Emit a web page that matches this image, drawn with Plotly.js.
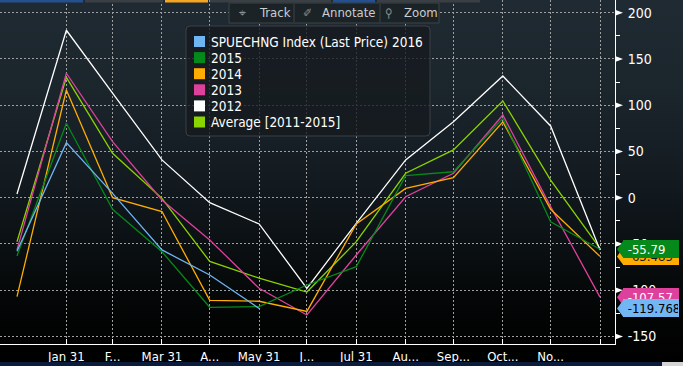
<!DOCTYPE html>
<html>
<head>
<meta charset="utf-8">
<script src="https://cdn.plot.ly/plotly-3.0.1.min.js"></script>
<style>
html,body{margin:0;padding:0;width:683px;height:366px;overflow:hidden;
background:linear-gradient(to bottom,#1f2a32 0px,#1b252c 90px,#141c22 170px,#0d1317 225px,#070a0b 280px,#020303 325px,#000 366px);}
#chart{width:683px;height:366px;}
</style>
</head>
<body>
<div id="chart"></div>
<script>
// ---- data ----
const dates = ['2015-12-31','2016-01-31','2016-02-29','2016-03-31','2016-04-30','2016-05-31','2016-06-30','2016-07-31','2016-08-31','2016-09-30','2016-10-31','2016-11-30','2016-12-31'];
const tickLabels = ['Jan 31','F...','Mar 31','A...','May 31','J...','Jul 31','Au...','Sep...','Oct...','No...',''];
const yTickVals = [-150,-100,-50,0,50,100,150,200];
const seriesNames = ['SPUECHNG Index (Last Price) 2016','2015','2014','2013','2012','Average [2011-2015]'];
const v2016 = [-58, 59.5, 4.7, -56.5, -83.6, -119.768];
const v2015 = [-63, 80.4, -12.5, -58.4, -118.5, -117.8, -94.4, -74.6, 23.8, 28, 85.8, -26, -55.79];
const v2014 = [-107, 116.4, 0, -15, -111, -112, -123, -28.4, 10, 21.6, 82, -12.5, -63.485];
const v2013 = [-56.5, 134.5, 60.5, -2.5, -45.7, -98, -126.8, -62, 1, 26.4, 89.4, -9.7, -107.57];
const v2012 = [4, 181, 113, 40.8, -5.4, -28.4, -98, -27.7, 40.8, 82, 131.6, 77.5, -56.5];
const vAvg  = [-47.6, 130, 48, -0.7, -69, -87, -102, -47.6, 26.4, 51.6, 104.5, 19, -54.7];
const lastLabels = [
  {name:'2014', value:-63.485, text:'-63.485'},
  {name:'2015', value:-55.79, text:'-55.79'},
  {name:'2013', value:-107.57, text:'-107.57'},
  {name:'2016', value:-119.768, text:'-119.768'}
];
// ---- styles ----
const colors = {'2016':'#6fb5f2','2015':'#05891b','2014':'#ffad00','2013':'#de419b','2012':'#ffffff','Avg':'#8ad400'};
const FONT = '"DejaVu Sans Condensed","DejaVu Sans",sans-serif';
const PW = 615, PH = 344; // plot area pixel size
const px = x => x / PW;
const py = y => 1 - y / PH;
const UPP = 1/0.925; // y units per pixel

const seriesList = [
  {key:'Avg', y:vAvg, name:seriesNames[5]},
  {key:'2012', y:v2012, name:seriesNames[4]},
  {key:'2013', y:v2013, name:seriesNames[3]},
  {key:'2014', y:v2014, name:seriesNames[2]},
  {key:'2015', y:v2015, name:seriesNames[1]},
  {key:'2016', y:v2016, name:seriesNames[0]}
];
const traces = seriesList.map(s => ({
  type:'scatter', mode:'lines', x:dates.slice(0, s.y.length), y:s.y, name:s.name,
  line:{color:colors[s.key], width:1.3}, hoverinfo:'skip', showlegend:false
}));

const shapes = [];
const annotations = [];

// y-axis arrow ticks
yTickVals.forEach(v => {
  shapes.push({type:'path', xref:'paper', yref:'y', layer:'above',
    path:`M ${px(615)},${v+3.2} L ${px(623)},${v} L ${px(615)},${v-3.2} Z`,
    fillcolor:'#ffffff', line:{width:0}});
});

// rounded rect helper (pixel coords -> paper)
function rrect(x0,y0,x1,y1,r){
  return `M ${px(x0+r)},${py(y0)} L ${px(x1-r)},${py(y0)} Q ${px(x1)},${py(y0)} ${px(x1)},${py(y0+r)} L ${px(x1)},${py(y1-r)} Q ${px(x1)},${py(y1)} ${px(x1-r)},${py(y1)} L ${px(x0+r)},${py(y1)} Q ${px(x0)},${py(y1)} ${px(x0)},${py(y1-r)} L ${px(x0)},${py(y0+r)} Q ${px(x0)},${py(y0)} ${px(x0+r)},${py(y0)} Z`;
}

// legend box
shapes.push({type:'path', xref:'paper', yref:'paper', layer:'above', path:rrect(186,26,430,136,4),
  fillcolor:'rgba(20,25,29,0.78)', line:{color:'#3b4146', width:1}});
const legendKeys = ['2016','2015','2014','2013','2012','Avg'];
legendKeys.forEach((k,i) => {
  const cy = 41.5 + i*16.1;
  shapes.push({type:'rect', xref:'paper', yref:'paper', layer:'above',
    x0:px(194), x1:px(205), y0:py(cy-5.5), y1:py(cy+5.5), fillcolor:colors[k], line:{width:0}});
  annotations.push({xref:'paper', yref:'paper', x:px(209), y:py(cy), xanchor:'left', yanchor:'middle',
    text:seriesNames[i], showarrow:false, font:{family:FONT, size:13.5, color:'#ffffff'}});
});

// toolbar
shapes.push({type:'rect', xref:'paper', yref:'paper', layer:'above', x0:px(229), x1:px(439), y0:py(3), y1:py(23),
  fillcolor:'#1c2327', line:{color:'#3d4448', width:1}});
[294,380].forEach(x => shapes.push({type:'line', xref:'paper', yref:'paper', layer:'above', x0:px(x), x1:px(x), y0:py(4), y1:py(22), line:{color:'#3d4448', width:1}}));
[['\u2316',242],['\u2710',307],['\u26b2',389]].forEach(([t,x]) => annotations.push({xref:'paper', yref:'paper', x:px(x), y:py(13), xanchor:'center', yanchor:'middle', text:t, showarrow:false, font:{family:FONT,size:12,color:'#8a9094'}}));
[['Track',257],['Annotate',320],['Zoom',402]].forEach(([t,x]) => annotations.push({xref:'paper', yref:'paper', x:px(x), y:py(13), xanchor:'left', yanchor:'middle', text:t, showarrow:false, font:{family:FONT,size:13,color:'#c9cdd0'}}));

// top tab strip
[[0,83,'#24508f'],[85,163,'#3a3f44'],[165,208,'#f5a623'],[210,331,'#3a3f44'],[333,375,'#24508f'],[377,480,'#3a3f44']].forEach(([a,b,c]) =>
  shapes.push({type:'rect', xref:'paper', yref:'paper', layer:'above', x0:px(a), x1:px(b), y0:py(0), y1:py(2.5), fillcolor:c, line:{width:0}}));
// bottom strip
shapes.push({type:'rect', xref:'paper', yref:'paper', layer:'above', x0:0, x1:px(683), y0:py(362), y1:py(366), fillcolor:'#0b1b3b', line:{width:0}});
shapes.push({type:'rect', xref:'paper', yref:'paper', layer:'above', x0:px(662), x1:px(683), y0:py(362), y1:py(366), fillcolor:'#d4d4d4', line:{width:0}});

// last-value labels
const labelStyle = {'2014':{bg:'#ffad00', fg:'#1a1a1a'}, '2015':{bg:'#05891b', fg:'#ffffff'}, '2013':{bg:'#de419b', fg:'#ffffff'}, '2016':{bg:'#72b6f3', fg:'#000000'}};
lastLabels.forEach(l => {
  const st = labelStyle[l.name];
  const h = 8.8*UPP;
  shapes.push({type:'path', xref:'paper', yref:'y', layer:'above',
    path:`M ${px(617)},${l.value} L ${px(623.5)},${l.value+h} L ${px(623.5)},${l.value-h} Z`, fillcolor:st.bg, line:{width:0}});
  const pad = '\u00a0'.repeat(Math.max(0, 2*(8 - l.text.length)));
  annotations.push({xref:'paper', yref:'y', x:px(622.5), y:l.value, xanchor:'left', yanchor:'middle',
    text:'\u00a0' + l.text + pad, showarrow:false, bgcolor:st.bg, borderpad:1, borderwidth:0, width:54, height:16, align:'left',
    font:{family:FONT, size:13, color:st.fg}});
});

const layout = {
  width:683, height:366,
  margin:{l:0, r:68, t:0, b:22, pad:0},
  paper_bgcolor:'rgba(0,0,0,0)', plot_bgcolor:'rgba(0,0,0,0)',
  showlegend:false,
  font:{family:FONT, size:13, color:'#ffffff'},
  xaxis:{type:'date', range:['2015-12-20 08:00','2017-01-09 10:00'],
    tickmode:'array', tickvals:dates.slice(1), ticktext:tickLabels,
    ticks:'inside', ticklen:5, tickcolor:'#ffffff', tickwidth:1,
    showline:true, linecolor:'#ffffff', linewidth:1,
    showgrid:true, gridcolor:'#a0a0a0', gridwidth:1, griddash:'2px,2px',
    zeroline:false, tickfont:{family:FONT, size:13, color:'#ffffff'}, fixedrange:true},
  yaxis:{side:'right', range:[-158.2, 213.7],
    tickmode:'array', tickvals:yTickVals, ticktext:yTickVals.map(String),
    ticks:'outside', ticklen:9, tickcolor:'rgba(0,0,0,0)',
    minor:{tickmode:'linear', tick0:-150, dtick:25, ticks:'outside', ticklen:4, tickcolor:'#ffffff', showgrid:false},
    showline:true, linecolor:'#ffffff', linewidth:1,
    showgrid:true, gridcolor:'#a0a0a0', gridwidth:1, griddash:'2px,2px',
    zeroline:false, tickfont:{family:FONT, size:14, color:'#ffffff'}, fixedrange:true},
  shapes:shapes,
  annotations:annotations
};

Plotly.newPlot('chart', traces, layout, {displayModeBar:false, staticPlot:true});
</script>
</body>
</html>
